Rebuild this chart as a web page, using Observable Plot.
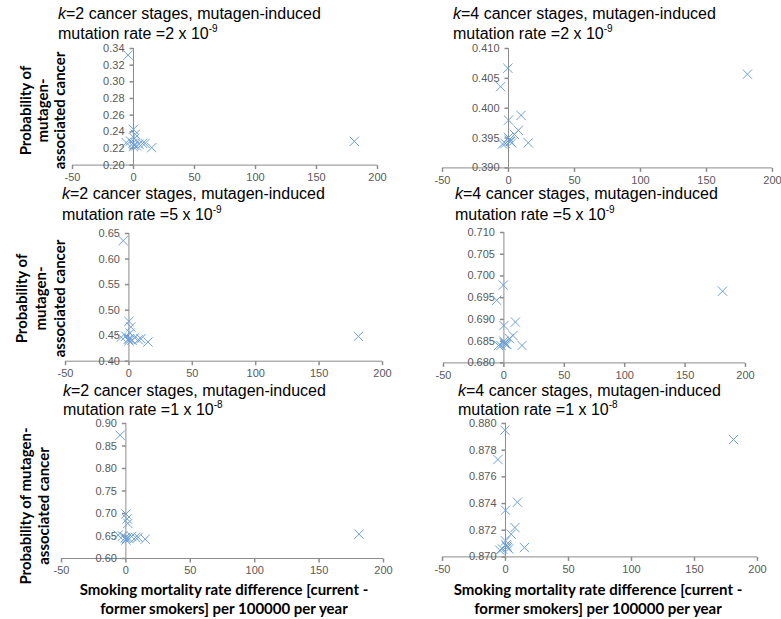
<!DOCTYPE html>
<html>
<head>
<meta charset="utf-8">
<script src="https://cdn.jsdelivr.net/npm/d3@7"></script>
<script src="https://cdn.jsdelivr.net/npm/@observablehq/plot@0.6"></script>
<style>
html, body { margin: 0; padding: 0; background: #fff; }
#chart { position: relative; width: 781px; height: 619px; overflow: hidden; background: #fff; font-family: "Liberation Sans", Arial, sans-serif; }
.title { position: absolute; font-size: 16px; line-height: 16px; color: #000; white-space: nowrap; }
.title sup { font-size: 10px; line-height: 0; vertical-align: 0; position: relative; top: -7px; }
.ylab { position: absolute; font-family: Lato, "Open Sans", sans-serif; font-weight: bold; font-size: 15px; text-align: center; transform: rotate(-90deg); white-space: nowrap; color: #000; }
.xlab { position: absolute; font-family: Lato, "Open Sans", sans-serif; font-weight: bold; font-size: 15px; line-height: 19px; text-align: center; white-space: nowrap; color: #000; }
</style>
</head>
<body>
<div id="chart"></div>
<script>
// ---------------- data ----------------
const xTicks = [-50, 0, 50, 100, 150, 200];
// smoking mortality rate difference (x) for each point
const smokingDiff = [-0.5, -6, 9.5, 0, 7.5, 4.5, 0, 0.5, 1.5, -2.5, -4.5, 15, 181, 1, 2.5];

// probability of mutagen-associated cancer, per panel (same point order as smokingDiff)
const probK2Rate2e9 = [0.226, 0.227, 0.226, 0.243, 0.226, 0.225, 0.222, 0.224, 0.237, 0.229, 0.332, 0.221, 0.2285, 0.232, 0.223];
const probK4Rate2e9 = [0.4067, 0.4036, 0.3988, 0.3980, 0.3963, 0.3956, 0.3951, 0.3947, 0.3944, 0.3941, 0.3940, 0.3942, 0.4057, 0.3945, 0.3942];
const probK2Rate5e9 = [0.443, 0.447, 0.444, 0.478, 0.442, 0.446, 0.440, 0.444, 0.467, 0.449, 0.636, 0.4375, 0.4486, 0.455, 0.441];
const probK4Rate5e9 = [0.6979, 0.6944, 0.6894, 0.6886, 0.6863, 0.6856, 0.6850, 0.6846, 0.6843, 0.6840, 0.6840, 0.6840, 0.6965, 0.6845, 0.6842];
const probK2Rate1e8 = [0.646, 0.652, 0.647, 0.699, 0.647, 0.649, 0.641, 0.645, 0.678, 0.650, 0.874, 0.643, 0.654, 0.688, 0.644];
const probK4Rate1e8 = [0.8795, 0.8773, 0.8741, 0.8735, 0.8722, 0.8717, 0.8712, 0.8709, 0.8707, 0.8706, 0.8705, 0.8707, 0.8788, 0.8708, 0.8706];

// y tick labels per panel
const yTicksK2Rate2e9 = [0.20, 0.22, 0.24, 0.26, 0.28, 0.30, 0.32, 0.34];
const yTicksK4Rate2e9 = [0.390, 0.395, 0.400, 0.405, 0.410];
const yTicksK2Rate5e9 = [0.40, 0.45, 0.50, 0.55, 0.60, 0.65];
const yTicksK4Rate5e9 = [0.680, 0.685, 0.690, 0.695, 0.700, 0.705, 0.710];
const yTicksK2Rate1e8 = [0.60, 0.65, 0.70, 0.75, 0.80, 0.85, 0.90];
const yTicksK4Rate1e8 = [0.870, 0.872, 0.874, 0.876, 0.878, 0.880];

// text
const stageCounts = ["2", "4"];
const rateMantissas = ["2", "5", "1"];
const rateExponents = ["-9", "-9", "-8"];
const yTitleLines3 = ["Probability of", "mutagen-", "associated cancer"];
const yTitleLines2 = ["Probability of mutagen-", "associated cancer"];
const xTitleLines = ["Smoking mortality rate difference [current -", "former smokers] per 100000 per year"];

// ---------------- layout ----------------
const panels = [
  {k: 0, r: 0, values: probK2Rate2e9, ticks: yTicksK2Rate2e9, dec: 2, frame: [72, 377, 47.7, 164.3], titleAt: [58, 5.5, 20], ylab: {lines: yTitleLines3, cx: 42, cy: 110, lh: 17}},
  {k: 1, r: 0, values: probK4Rate2e9, ticks: yTicksK4Rate2e9, dec: 3, frame: [442, 772, 48.3, 167.7], titleAt: [453, 5.5, 20]},
  {k: 0, r: 1, values: probK2Rate5e9, ticks: yTicksK2Rate5e9, dec: 2, frame: [65, 382, 233.3, 361], titleAt: [62, 185.5, 21], ylab: {lines: yTitleLines3, cx: 40, cy: 298, lh: 19}},
  {k: 1, r: 1, values: probK4Rate5e9, ticks: yTicksK4Rate5e9, dec: 3, frame: [443, 745, 232.3, 362.7], titleAt: [455, 185.5, 21]},
  {k: 0, r: 2, values: probK2Rate1e8, ticks: yTicksK2Rate1e8, dec: 2, frame: [61, 383, 422.7, 557.7], titleAt: [63, 382.5, 19.5], ylab: {lines: yTitleLines2, cx: 34, cy: 506, lh: 18}, xlab: {cx: 224, top: 580}},
  {k: 1, r: 2, values: probK4Rate1e8, ticks: yTicksK4Rate1e8, dec: 3, frame: [441.7, 756.7, 423.3, 556.7], titleAt: [458, 382.5, 19.5], xlab: {cx: 598, top: 580}}
];

const chart = document.getElementById("chart");
const axisGray = "#8c8c8c";
const labelGray = "#595959";
const markerBlue = "#6c9fd9";
const tickFont = "Liberation Sans, Arial, sans-serif";

const leftTick = {draw(ctx) { ctx.moveTo(-4, 0); ctx.lineTo(0, 0); }};
const downTick = {draw(ctx) { ctx.moveTo(0, 0); ctx.lineTo(0, 4); }};

const ML = 45, MR = 15, MT = 8, MB = 24;

function titleLine(left, top) {
  const d = document.createElement("div");
  d.className = "title";
  d.style.left = left + "px";
  d.style.top = top + "px";
  chart.appendChild(d);
  return d;
}

for (const p of panels) {
  const [fx0, fx1, fy0, fy1] = p.frame;
  const ymin = p.ticks[0], ymax = p.ticks[p.ticks.length - 1];
  const pts = smokingDiff.map((x, i) => ({x, y: p.values[i]}));
  const fmt = d3.format("." + p.dec + "f");
  const svg = Plot.plot({
    width: ML + (fx1 - fx0) + MR,
    height: MT + (fy1 - fy0) + MB,
    marginLeft: ML, marginRight: MR, marginTop: MT, marginBottom: MB,
    x: {domain: [xTicks[0], xTicks[xTicks.length - 1]], axis: null},
    y: {domain: [ymin, ymax], axis: null},
    style: {background: "transparent", overflow: "visible"},
    marks: [
      Plot.ruleY([ymin], {x1: xTicks[0], x2: xTicks[xTicks.length - 1], stroke: axisGray, strokeWidth: 1}),
      Plot.ruleX([0], {y1: ymin, y2: ymax, stroke: axisGray, strokeWidth: 1}),
      Plot.dot(xTicks, {x: d => d, y: () => ymin, symbol: downTick, stroke: axisGray, fill: "none", r: 3}),
      Plot.dot(p.ticks, {x: () => 0, y: d => d, symbol: leftTick, stroke: axisGray, fill: "none", r: 3}),
      Plot.text(xTicks, {x: d => d, y: () => ymin, text: d => String(d), dy: 8, lineAnchor: "top", fontSize: 11, fill: labelGray, fontFamily: tickFont}),
      Plot.text(p.ticks, {x: () => 0, y: d => d, text: d => fmt(d), dx: -9, textAnchor: "end", lineAnchor: "middle", fontSize: 11, fill: labelGray, fontFamily: tickFont}),
      Plot.dot(pts, {x: "x", y: "y", symbol: "times", r: 4.3, stroke: markerBlue, strokeWidth: 1, fill: "none"})
    ]
  });
  svg.style.position = "absolute";
  svg.style.left = (fx0 - ML) + "px";
  svg.style.top = (fy0 - MT) + "px";
  chart.appendChild(svg);

  // title (two lines)
  const t1 = titleLine(p.titleAt[0], p.titleAt[1]);
  const ki = document.createElement("i");
  ki.textContent = "k";
  t1.appendChild(ki);
  t1.appendChild(document.createTextNode("=" + stageCounts[p.k] + " cancer stages, mutagen-induced"));
  const t2 = titleLine(p.titleAt[0], p.titleAt[1] + p.titleAt[2]);
  t2.appendChild(document.createTextNode("mutation rate =" + rateMantissas[p.r] + " x 10"));
  const sup = document.createElement("sup");
  sup.textContent = rateExponents[p.r];
  t2.appendChild(sup);

  // y title
  if (p.ylab) {
    const W = 200, H = p.ylab.lines.length * p.ylab.lh;
    const y = document.createElement("div");
    y.className = "ylab";
    y.style.width = W + "px";
    y.style.height = H + "px";
    y.style.lineHeight = p.ylab.lh + "px";
    y.style.left = (p.ylab.cx - W / 2) + "px";
    y.style.top = (p.ylab.cy - H / 2) + "px";
    p.ylab.lines.forEach((line, i) => {
      if (i) y.appendChild(document.createElement("br"));
      y.appendChild(document.createTextNode(line));
    });
    chart.appendChild(y);
  }
  // x title
  if (p.xlab) {
    const W = 340;
    const x = document.createElement("div");
    x.className = "xlab";
    x.style.width = W + "px";
    x.style.left = (p.xlab.cx - W / 2) + "px";
    x.style.top = p.xlab.top + "px";
    xTitleLines.forEach((line, i) => {
      if (i) x.appendChild(document.createElement("br"));
      x.appendChild(document.createTextNode(line));
    });
    chart.appendChild(x);
  }
}
</script>
</body>
</html>
